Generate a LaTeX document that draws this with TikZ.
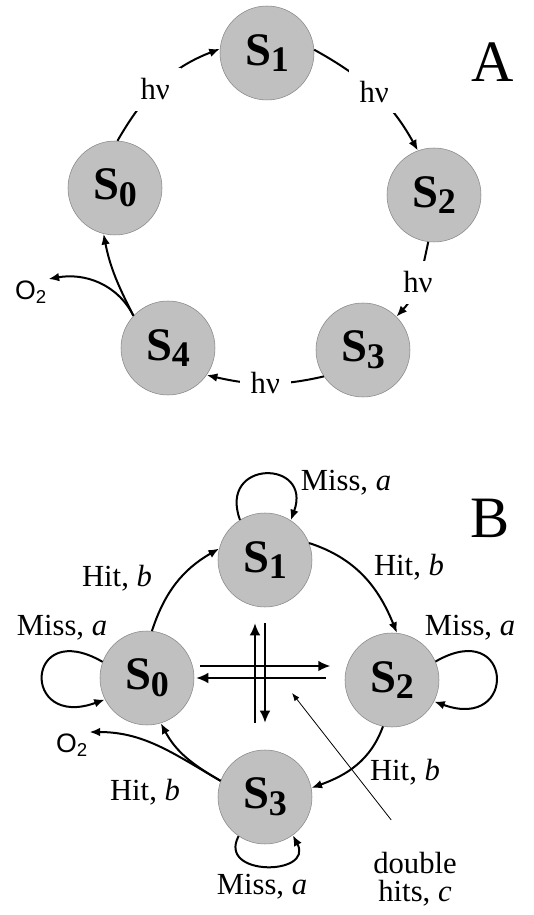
\documentclass[tikz,border=0pt]{standalone}
\usepackage{fontspec}
\setmainfont{Liberation Serif}
\newfontfamily\oxyfont{Liberation Sans}
\usepackage{tikz}
\usetikzlibrary{calc, arrows.meta}

\definecolor{stfill}{RGB}{192,192,192}
\definecolor{stline}{RGB}{135,135,135}

\newcommand{\stlab}[1]{S\raisebox{-5pt}{\fontsize{27}{27}\selectfont #1}}

\begin{document}
\begin{tikzpicture}[x=0.75pt, y=0.75pt,
                state/.style={circle, draw=stline, fill=stfill, minimum size=70.5pt, inner sep=0pt, font=\bfseries\fontsize{35}{35}\selectfont},
                hv/.style={fill=white, inner sep=8pt, font=\fontsize{23}{23}\selectfont},
                lbl/.style={inner sep=1pt, align=center, font=\fontsize{23}{21}\selectfont},
                panel/.style={font=\fontsize{44}{44}\selectfont},
                oxy/.style={inner sep=1pt, font=\oxyfont\fontsize{20}{20}\selectfont},
                paths/.style={line width=1.5pt, -{Latex[length=8pt, width=6.5pt]}},
                cross/.style={line width=1.3pt, -{Latex[length=9pt, width=8pt]}},
                pointer/.style={line width=0.6pt, -{Latex[length=6pt, width=4.5pt]}}
            ]
                \useasboundingbox (0,0) rectangle (533,915);

                % Nodes: panel A
                \node[state] (a1) at (267,862) {\stlab{1}};
                \node[state] (a0) at (115,727) {\stlab{0}};
                \node[state] (a2) at (434,720) {\stlab{2}};
                \node[state] (a3) at (363,565) {\stlab{3}};
                \node[state] (a4) at (168,567) {\stlab{4}};
                \node[panel] (pa) at (493,853) {A};
                \node[oxy] (oa) at (31,623) {O\textsubscript{2}};

                % Paths: light steps
                \draw[paths] (a0.87) to[out=60, in=201] node[hv, pos=0.45] {hν} (a1.175);
                \draw[paths] (a1.4) to[out=-29, in=119] node[hv] {hν} (a2.110);
                \draw[paths] (a2.263) to[out=258, in=47] node[hv] {hν} (a3.45);
                \draw[paths] (a3.214) to[out=193, in=-13] node[hv] {hν} (a4.325);

                % Paths: back to S0, oxygen out
                \draw[paths] (a4.137) to[out=117, in=-79] (a0.256);
                \draw[paths] (a4.137) to[out=117, in=10] (oa.north east);

                % Nodes: panel B
                \node[state] (b1) at (265,355) {\stlab{1}};
                \node[state] (b0) at (147,237) {\stlab{0}};
                \node[state] (b2) at (392,235) {\stlab{2}};
                \node[state] (b3) at (265,118) {\stlab{3}};
                \node[panel] (pb) at (490,397) {B};
                \node[oxy] (ob) at (72,170) {O\textsubscript{2}};

                % Paths: hits
                \draw[paths] (b0.84) to[out=72, in=210] (b1.166);
                \draw[paths] (b1.21) to[out=-18, in=112] (b2.84);
                \draw[paths] (b2.259) to[out=250, in=20] (b3.11);
                \draw[paths] (b3.160) to[out=150, in=-62] (b0.287);
                \draw[paths] (b3.160) to[out=150, in=0] (ob.north east);

                \node[lbl] (hit01) at (117,337) {Hit, \textit{b}};
                \node[lbl] (hit12) at (409,348) {Hit, \textit{b}};
                \node[lbl] (hit23) at (405,143) {Hit, \textit{b}};
                \node[lbl] (hit30) at (145,123) {Hit, \textit{b}};

                % Paths: misses
                \draw[paths] (b1.122) .. controls +(110:65) and +(70:65) .. (b1.57);
                \draw[paths] (b0.160) .. controls +(150:90) and +(200:90) .. (b0.207);
                \draw[paths] (b2.23) .. controls +(30:90) and +(-20:90) .. (b2.-27);
                \draw[paths] (b3.236) .. controls +(242:46) and +(298:46) .. (b3.306);

                \node[lbl] (miss1) at (346,432) {Miss, \textit{a}};
                \node[lbl] (miss0) at (62,287) {Miss, \textit{a}};
                \node[lbl] (miss2) at (470,287) {Miss, \textit{a}};
                \node[lbl] (miss3) at (262,28) {Miss, \textit{a}};

                % Paths: double hits
                \draw[cross] ([shift={(6,12)}]b0.east) -- ++(130,0);
                \draw[cross] ([shift={(-19,2)}]b2.west) -- ([shift={(2,0)}]b0.east);
                \draw[cross] ([shift={(-10,27)}]b3.north) -- ([shift={(-10,-16)}]b1.south);
                \draw[cross] ([shift={(0,-16)}]b1.south) -- ([shift={(0,27)}]b3.north);

                \node[lbl] (dh) at (415,36) {double\\hits, \textit{c}};
                \coordinate (dhtip) at (292,222);
                \draw[pointer, shorten <=29pt] (dh.north) -- (dhtip);
            \end{tikzpicture}
\end{document}
